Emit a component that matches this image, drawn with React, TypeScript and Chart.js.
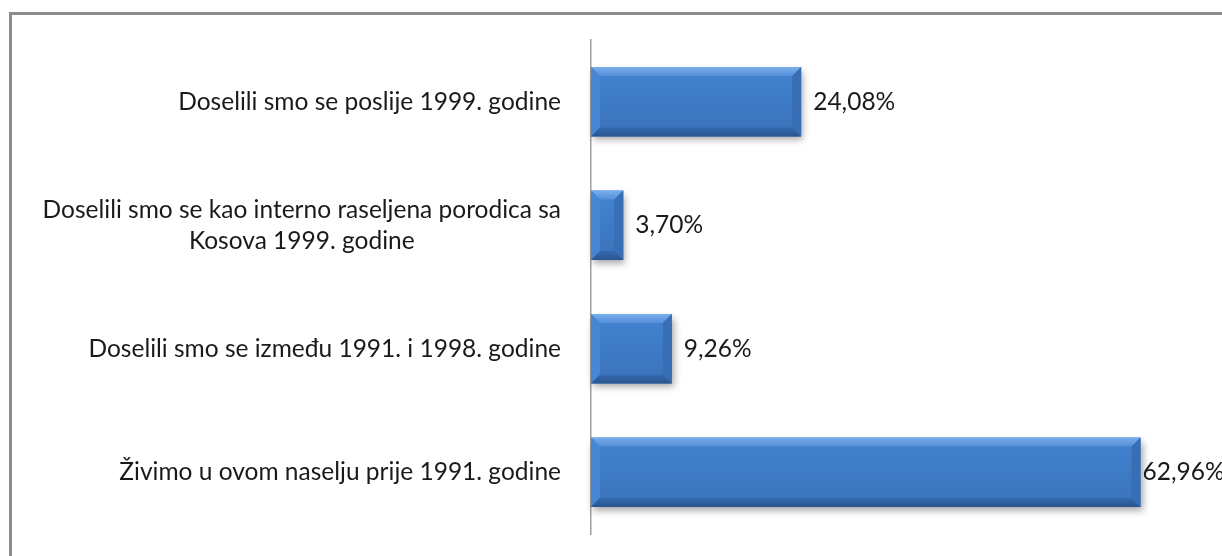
import React, { useEffect, useRef } from "react";
import { Chart, registerables } from "chart.js";

Chart.register(...registerables);

const categories: string[][] = [
  ["Doselili smo se poslije 1999. godine"],
  ["Doselili smo se kao interno raseljena porodica sa", "Kosova 1999. godine"],
  ["Doselili smo se između 1991. i 1998. godine"],
  ["Živimo u ovom naselju prije 1991. godine"],
];
const values: number[] = [24.08, 3.7, 9.26, 62.96];
const valueLabels: string[] = ["24,08%", "3,70%", "9,26%", "62,96%"];
const axisMax = 70;

const FONT = "24.5px Lato, 'Open Sans', sans-serif";

const bevelPlugin = {
  id: "bevelBars",
  afterDatasetsDraw(chart: any) {
    const ctx: CanvasRenderingContext2D = chart.ctx;
    const meta = chart.getDatasetMeta(0);
    meta.data.forEach((el: any) => {
      const x0 = el.base;
      const x1 = el.x;
      const y0 = el.y - el.height / 2;
      const y1 = el.y + el.height / 2;
      const b = Math.min(9, (x1 - x0) / 3);
      ctx.save();
      ctx.shadowColor = "rgba(0,0,0,0.35)";
      ctx.shadowBlur = 7;
      ctx.shadowOffsetX = 2;
      ctx.shadowOffsetY = 4;
      const g = ctx.createLinearGradient(0, y0, 0, y1);
      g.addColorStop(0, "#4283D0");
      g.addColorStop(1, "#3A73BA");
      ctx.fillStyle = g;
      ctx.fillRect(x0, y0, x1 - x0, y1 - y0);
      ctx.restore();
      ctx.save();
      const gt = ctx.createLinearGradient(0, y0, 0, y0 + b);
      gt.addColorStop(0, "#79AEEC");
      gt.addColorStop(1, "#558FD8");
      ctx.fillStyle = gt;
      ctx.beginPath();
      ctx.moveTo(x0, y0);
      ctx.lineTo(x1, y0);
      ctx.lineTo(x1 - b, y0 + b);
      ctx.lineTo(x0 + b, y0 + b);
      ctx.closePath();
      ctx.fill();
      ctx.fillStyle = "#4686D2";
      ctx.beginPath();
      ctx.moveTo(x0, y0);
      ctx.lineTo(x0 + b, y0 + b);
      ctx.lineTo(x0 + b, y1 - b);
      ctx.lineTo(x0, y1);
      ctx.closePath();
      ctx.fill();
      ctx.fillStyle = "#376EB4";
      ctx.beginPath();
      ctx.moveTo(x1, y0);
      ctx.lineTo(x1, y1);
      ctx.lineTo(x1 - b, y1 - b);
      ctx.lineTo(x1 - b, y0 + b);
      ctx.closePath();
      ctx.fill();
      const gb = ctx.createLinearGradient(0, y1 - b, 0, y1);
      gb.addColorStop(0, "#3569AE");
      gb.addColorStop(1, "#2A5690");
      ctx.fillStyle = gb;
      ctx.beginPath();
      ctx.moveTo(x0, y1);
      ctx.lineTo(x1, y1);
      ctx.lineTo(x1 - b, y1 - b);
      ctx.lineTo(x0 + b, y1 - b);
      ctx.closePath();
      ctx.fill();
      ctx.restore();
    });
  },
};

const labelsPlugin = {
  id: "customLabels",
  afterDraw(chart: any) {
    const ctx: CanvasRenderingContext2D = chart.ctx;
    const yScale = chart.scales.y;
    const area = chart.chartArea;
    ctx.save();
    ctx.font = FONT;
    ctx.fillStyle = "#1a1a1a";
    ctx.textBaseline = "middle";
    ctx.textAlign = "left";
    const lineH = 31;
    categories.forEach((lines, i) => {
      const cy = yScale.getPixelForTick(i);
      const widths = lines.map((l) => ctx.measureText(l).width);
      const maxW = Math.max(...widths);
      const right = area.left - 30;
      const centerX = right - maxW / 2;
      const startY = cy - ((lines.length - 1) * lineH) / 2;
      lines.forEach((l, j) => {
        ctx.fillText(l, centerX - widths[j] / 2, startY + j * lineH);
      });
    });
    const meta = chart.getDatasetMeta(0);
    meta.data.forEach((el: any, i: number) => {
      const t = valueLabels[i];
      const w = ctx.measureText(t).width;
      let x = el.x + 12;
      if (x + w > chart.width + 2) x = Math.max(el.x + 2, chart.width + 2 - w);
      ctx.fillText(t, x, el.y);
    });
    ctx.restore();
  },
};

export default function App() {
  const ref = useRef<HTMLCanvasElement>(null);
  useEffect(() => {
    if (!ref.current) return;
    const chart = new Chart(ref.current, {
      type: "bar",
      data: {
        labels: categories.map((c) => c.join(" ")),
        datasets: [
          {
            data: values,
            backgroundColor: "rgba(0,0,0,0)",
            borderWidth: 0,
            barPercentage: 0.75,
            categoryPercentage: 0.75,
          },
        ],
      },
      options: {
        indexAxis: "y",
        responsive: false,
        maintainAspectRatio: false,
        animation: false,
        layout: { padding: { top: 40, bottom: 22, left: 0, right: 20 } },
        plugins: { legend: { display: false }, tooltip: { enabled: false } },
        scales: {
          x: { display: false, min: 0, max: axisMax },
          y: {
            display: true,
            ticks: { display: false },
            grid: { display: true, drawOnChartArea: false, drawTicks: false },
            border: { display: true, color: "#a0a0a0", width: 1.5 },
            afterFit: (s: any) => {
              s.width = 591;
            },
          },
        },
      },
      plugins: [bevelPlugin, labelsPlugin],
    });
    return () => chart.destroy();
  }, []);
  return (
    <div style={{ position: "fixed", left: 0, top: 0, width: 1222, height: 556, background: "#fff", overflow: "hidden" }}>
      <div
        style={{
          position: "absolute",
          left: 9,
          top: 12,
          width: 1400,
          height: 700,
          borderTop: "3px solid #8c8c8c",
          borderLeft: "3px solid #8c8c8c",
        }}
      />
      <canvas ref={ref} width={1222} height={556} style={{ position: "absolute", left: 0, top: 0 }} />
    </div>
  );
}
